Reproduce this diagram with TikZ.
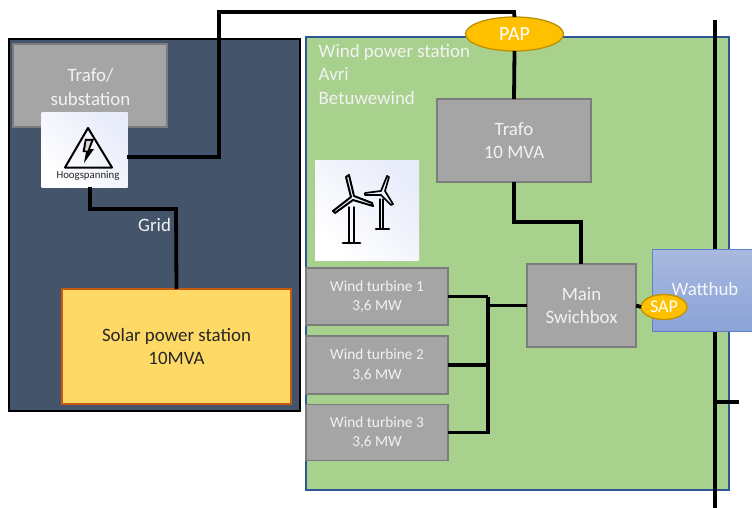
\documentclass[tikz,border=0pt]{standalone}
\usepackage{fontspec}
\setmainfont{Carlito}
\usetikzlibrary{shapes.geometric}
\definecolor{darkbg}{HTML}{44546A}
\definecolor{greenbg}{HTML}{A9D18E}
\definecolor{greenedge}{HTML}{2F5597}
\definecolor{graybox}{HTML}{A5A5A5}
\definecolor{grayedge}{HTML}{7C7C7C}
\definecolor{solarfill}{HTML}{FFD966}
\definecolor{solaredge}{HTML}{C55A11}
\definecolor{ovalfill}{HTML}{FFC000}
\definecolor{ovaledge}{HTML}{BF9000}
\definecolor{hubtop}{HTML}{A9B9DF}
\definecolor{hubbot}{HTML}{8BA3D8}
\definecolor{hubedge}{HTML}{5F83C8}
\definecolor{softwhite}{HTML}{F2F2F2}
\definecolor{iconblue}{HTML}{E8ECFA}
\tikzset{
  x=1pt,y=-1pt,
  sized/.style n args={2}{minimum width=#1pt,minimum height=#2pt,inner sep=0pt,outer sep=0pt,align=center},
  grayblock/.style={fill=graybox,draw=grayedge,line width=1.6pt,text=softwhite,font=\fontsize{18.9}{23.5}\selectfont},
  turbblock/.style={fill=graybox,draw=grayedge,line width=1.3pt,text=softwhite,font=\fontsize{15.3}{19.5}\selectfont},
  wire/.style={draw=black,line width=3.8pt,line join=miter},
  oval/.style={ellipse,fill=ovalfill,draw=ovaledge,line width=1.3pt,inner sep=0pt,outer sep=0pt,text=white},
  iconbox/.style={inner sep=0pt,outer sep=0pt,shading=axis,top color=iconblue,bottom color=white,shading angle=-45},
  lbl/.style={text=softwhite,inner sep=0pt,font=\fontsize{18.9}{23.5}\selectfont},
  glyph/.style={draw=black,line join=round,line cap=round},
}
\begin{document}
\begin{tikzpicture}
\useasboundingbox (0,0) rectangle (752,508);
\fill[white] (0,0) rectangle (752,508);
% containers
\node[sized={291}{372},fill=darkbg,draw=black,line width=2pt] (solarsite) at (154.5,225) {};
\node[sized={423}{453},fill=greenbg,draw=greenedge,line width=1.5pt] (windsite) at (517.5,263.5) {};
% boxes
\node[sized={154}{83},grayblock] (sub) at (90,85.5) {};
\node[lbl,align=center] (subtext) at (90.5,87) {Trafo/\\substation};
\node[sized={86}{74},iconbox] (hv) at (84.5,150) {};
\node[inner sep=0pt,font=\fontsize{10.8}{12}\selectfont,text=black!85] (hvtext) at (88,175.5) {Hoogspanning};
\draw[glyph,line width=2pt] (88,128) -- (112,167.5) -- (65,167.5) -- cycle;
\fill[black] (85,139) -- (94,139) -- (90,149) -- (94,149) -- (84,163) -- (86,152) -- (82.5,152) -- cycle;
\fill[white!85!black] (86.5,141) -- (91,141) -- (87.5,150.5) -- (85,150.5) -- cycle;
\node[sized={229}{115},fill=solarfill,draw=solaredge,line width=1.5pt,text=black!85,font=\fontsize{18.9}{24}\selectfont] (solar) at (176.5,346.5) {Solar power station\\10MVA};
\node[lbl,anchor=west] (gridtext) at (138,225) {Grid};
\node[lbl,anchor=north west,align=left] (windtext) at (318.5,44) {Wind power station\\Avri\\Betuwewind};
\node[sized={154}{83},grayblock] (trafo) at (514,140.5) {Trafo\\10 MVA};
\node[sized={109}{83},grayblock] (main) at (581.5,305.5) {Main\\Swichbox};
\node[sized={142}{57},turbblock] (wt1) at (377,296.5) {Wind turbine 1\\3,6 MW};
\node[sized={142}{58},turbblock] (wt2) at (377,365) {Wind turbine 2\\3,6 MW};
\node[sized={142}{56},turbblock] (wt3) at (377,432.5) {Wind turbine 3\\3,6 MW};
% turbine icon
\node[sized={104}{100},iconbox] (icon) at (367,210) {};
\begin{scope}[glyph]
  \draw[line width=1.5pt] (349,207) -- (349,243) (354,207) -- (354,243);
  \draw[line width=2.8pt] (343,243) -- (360,243);
  \draw[line width=2pt] (351,197) -- (346,177) -- (349,175) -- (354,196) -- (372,203) -- (373,206) -- (353,200) -- (335,213) -- (333,211) -- cycle;
  \draw[line width=1.3pt] (380,199) -- (380,229) (383,199) -- (383,229);
  \draw[line width=2.2pt] (376,229) -- (389,229);
  \draw[line width=1.7pt] (381,191) -- (387,176) -- (389,177) -- (385,191) -- (393,204) -- (391,205) -- (381,195) -- (365,195) -- (365,193) -- cycle;
\end{scope}
% coordinates
\coordinate (busT) at (715,20);
\coordinate (busB) at (715,508);
\coordinate (busJ) at (715,402);
\coordinate (busS) at (739,402);
\coordinate (hvA) at (127,157);
\coordinate (hvB) at (219,157);
\coordinate (hvC) at (219,12);
\coordinate (hvD) at (514,12);
\coordinate (hvG) at (90,187);
\coordinate (gA) at (90,209);
\coordinate (gB) at (176,209);
\coordinate (tA) at (514,222);
\coordinate (tB) at (581,222);
\coordinate (join1) at (488,296.5);
\coordinate (join2) at (488,365);
\coordinate (join3) at (488,432.5);
\coordinate (join4) at (488,305.5);
% ovals
\node[oval,minimum width=98pt,minimum height=34pt,font=\fontsize{20}{22}\selectfont] (pap) at (514.5,34) {PAP};
% connectors
\draw[wire] (busT) -- (busB);
\draw[wire] (busJ) -- (busS);
\draw[wire] (hvA) -- (hvB) -- (hvC) -- (hvD) -- (pap.north);
\draw[wire] (hvG) -- (gA) -- (gB) -- (solar.north);
\draw[wire] (pap.south) -- (trafo.north);
\draw[wire] (trafo.south) -- (tA) -- (tB) -- (tB |- main.north);
\draw[wire] (wt1.east) -- (join1);
\draw[wire] (wt2.east) -- (join2);
\draw[wire] (wt3.east) -- (join3) -- (join1);
\draw[wire] (join4) -- (main.west);
% watthub above bus
\node[sized={101}{82},shading=axis,top color=hubtop,bottom color=hubbot,draw=hubedge,line width=1pt] (hub) at (702.5,290) {};
\node[lbl,text=white!88!hubtop] (hubtext) at (705,289) {Watthub};
\node[oval,minimum width=46pt,minimum height=25pt,font=\fontsize{18}{20}\selectfont] (sap) at (664,307) {SAP};
\draw[wire] (main.east) -- (sap.west);
\end{tikzpicture}
\end{document}
